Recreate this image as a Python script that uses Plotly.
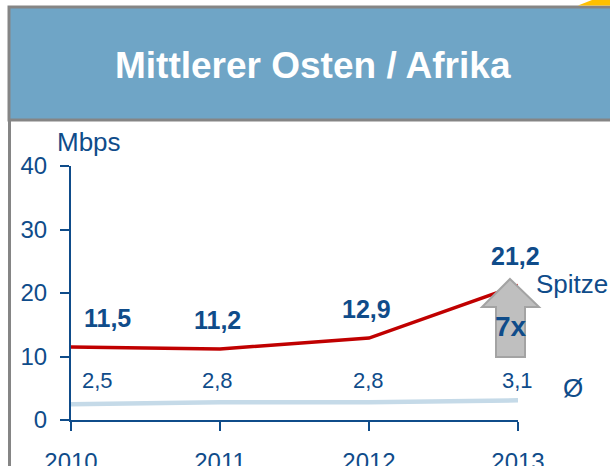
import plotly.graph_objects as go

# chart data
years = [2010, 2011, 2012, 2013]
peak_speed = [11.5, 11.2, 12.9, 21.2]
avg_speed = [2.5, 2.8, 2.8, 3.1]
y_ticks = [0, 10, 20, 30, 40]

TITLE = "Mittlerer Osten / Afrika"
BLUE_TEXT = "#0F4C8A"
FONT = "Liberation Sans, Arial, sans-serif"
W, H = 610, 466


def px(x):
    return x / W


def py(y):
    return 1 - y / H


def de(v):
    # German decimal comma
    return f"{v:.1f}".replace(".", ",")


fig = go.Figure()

fig.add_trace(go.Scatter(
    x=years, y=avg_speed, mode="lines",
    line={"color": "#C5DAE8", "width": 4.5},
    hoverinfo="skip",
))
fig.add_trace(go.Scatter(
    x=years, y=peak_speed, mode="lines",
    line={"color": "#C00000", "width": 3.5},
    hoverinfo="skip",
))

# value labels (peak: bold, above line; average: in one row above the light line)
peak_xshift = [36, -3, -3, -3]
for yr, v, dx in zip(years, peak_speed, peak_xshift):
    fig.add_annotation(
        x=yr, y=v, xref="x", yref="y", text=f"<b>{de(v)}</b>",
        showarrow=False, xshift=dx, yshift=29, yanchor="middle",
        font={"size": 25, "color": BLUE_TEXT, "family": FONT},
    )
avg_xshift = [26, -3, -1, -1]
for yr, v, dx in zip(years, avg_speed, avg_xshift):
    fig.add_annotation(
        x=yr, y=py(380), xref="x", yref="paper", text=de(v),
        showarrow=False, xshift=dx, yanchor="middle",
        font={"size": 22, "color": BLUE_TEXT, "family": FONT},
    )

# header box and frame
shapes = [
    dict(type="rect", xref="paper", yref="paper",
         x0=px(9), x1=px(W + 5), y0=py(120), y1=py(7),
         fillcolor="#6FA5C6", line={"color": "#858585", "width": 3}, layer="below"),
    dict(type="line", xref="paper", yref="paper",
         x0=px(9.5), x1=px(9.5), y0=py(120), y1=py(H + 5),
         line={"color": "#858585", "width": 3}, layer="below"),
    dict(type="path", xref="paper", yref="paper",
         path=f"M {px(578)},{py(5.5)} L {px(592)},{py(0)} L {px(W)},{py(0)} L {px(W)},{py(5.5)} Z",
         fillcolor="#FFC000", line={"width": 0}, layer="below"),
]
# grey growth arrow
arrow_pts = [(510, 279), (539, 307), (525, 307), (525, 357),
             (496, 357), (496, 307), (482, 307)]
path = "M " + " L ".join(f"{px(a)},{py(b)}" for a, b in arrow_pts) + " Z"
shapes.append(dict(type="path", xref="paper", yref="paper", path=path,
                   fillcolor="#BFBFBF", line={"color": "#A3A3A3", "width": 2},
                   layer="above"))
fig.update_layout(shapes=shapes)

# free texts
texts = [
    (TITLE, 313, 65, 37, "white", True),
    ("Mbps", 89, 142, 26, BLUE_TEXT, False),
    ("Spitze", 572, 284, 26, BLUE_TEXT, False),
    ("7x", 511, 326, 28, BLUE_TEXT, True),
    ("Ø", 573, 388, 26, BLUE_TEXT, False),
]
for t, x, y, size, color, bold in texts:
    fig.add_annotation(
        x=px(x), y=py(y), xref="paper", yref="paper",
        text=f"<b>{t}</b>" if bold else t, showarrow=False,
        xanchor="center", yanchor="middle",
        font={"size": size, "color": color, "family": FONT},
    )

axis_common = dict(
    showgrid=False, zeroline=False, showline=True,
    linecolor=BLUE_TEXT, linewidth=2,
    ticks="outside", ticklen=9, tickwidth=2, tickcolor=BLUE_TEXT,
    tickfont={"size": 24, "color": BLUE_TEXT, "family": FONT},
    fixedrange=True, automargin=False,
)
fig.update_layout(
    width=W, height=H,
    margin={"l": 0, "r": 0, "t": 0, "b": 0, "pad": 0},
    autosize=False,
    paper_bgcolor="white", plot_bgcolor="rgba(0,0,0,0)",
    showlegend=False,
    font={"family": FONT},
    xaxis=dict(axis_common, domain=[px(71), px(518)], range=[2010, 2013],
               tickvals=years, ticktext=[str(y) for y in years],
               ticklabelstandoff=10),
    yaxis=dict(axis_common, domain=[py(420), py(166)], range=[0, 40],
               tickvals=y_ticks, ticklabelstandoff=8),
)

fig.write_html(
    "out.html",
    config={"displayModeBar": False},
    post_script="document.body.style.margin='0';document.body.style.overflow='hidden';",
)
